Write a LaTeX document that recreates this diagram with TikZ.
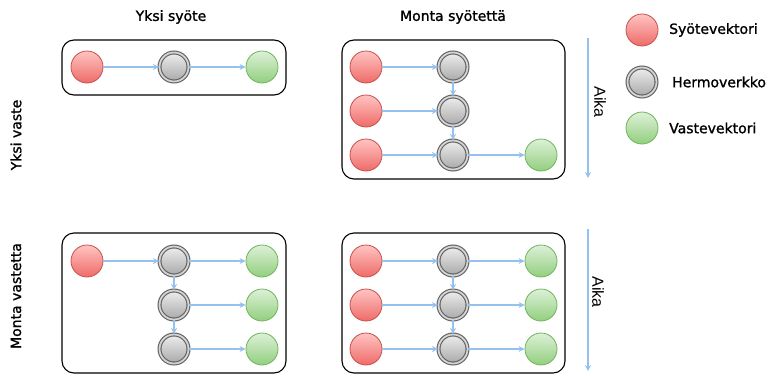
\documentclass[tikz,border=0pt]{standalone}
\usepackage{fontspec}
\setmainfont{DejaVu Sans}[FakeBold=1.3]
\newfontfamily\aikafont{Liberation Sans}
\usetikzlibrary{arrows.meta}
\definecolor{redfillA}{HTML}{FFC4C2}
\definecolor{redfillB}{HTML}{EE6B68}
\definecolor{redline}{HTML}{C8504D}
\definecolor{greenfillA}{HTML}{DDF0D8}
\definecolor{greenfillB}{HTML}{92CF7E}
\definecolor{greenline}{HTML}{6DB55A}
\definecolor{greyfillA}{HTML}{EEEEEE}
\definecolor{greyfillB}{HTML}{A8A8A8}
\definecolor{greyline}{HTML}{606060}
\definecolor{greygap}{HTML}{D4D4D4}
\definecolor{flow}{HTML}{94C1EE}
\tikzset{
  invec/.style={circle, minimum size=32pt, inner sep=0pt, draw=redline, line width=0.8pt, top color=redfillA, bottom color=redfillB},
  outvec/.style={circle, minimum size=32pt, inner sep=0pt, draw=greenline, line width=0.8pt, top color=greenfillA, bottom color=greenfillB},
  netnode/.style={circle, minimum size=29pt, inner sep=0pt, draw=greyline, line width=1.1pt, double=greygap, double distance=1.8pt, top color=greyfillA, bottom color=greyfillB},
  panel/.style={draw=black, line width=1.1pt, rounded corners=12pt, inner sep=0pt},
  flowarrow/.style={draw=flow, line width=1.2pt, -{Stealth[length=6pt,width=6pt]}},
  title/.style={font=\fontsize{14}{16}\selectfont, inner sep=0pt},
  legendtext/.style={font=\fontsize{14}{16}\selectfont, anchor=west, inner sep=0pt},
  aikatext/.style={font=\aikafont\fontsize{16}{18}\selectfont, rotate=-90, inner sep=0pt},
}
\begin{document}
\begin{tikzpicture}[x=1pt, y=-1pt]
\useasboundingbox (0,0) rectangle (773,375);
% panels
\node[panel, minimum width=224pt, minimum height=55pt] (p1) at (174,67.5) {};
\node[panel, minimum width=223pt, minimum height=139pt] (p2) at (453.5,109.5) {};
\node[panel, minimum width=224pt, minimum height=140pt] (p3) at (174,303) {};
\node[panel, minimum width=223pt, minimum height=140pt] (p4) at (453.5,303) {};
% titles
\node[title] (t1) at (171,17) {Yksi syöte};
\node[title] (t2) at (453,17) {Monta syötettä};
\node[title, rotate=90] (r1) at (16,135) {Yksi vaste};
\node[title, rotate=90] (r2) at (16,296) {Monta vastetta};
% panel 1
\node[invec] (a1) at (87,67) {};
\node[netnode] (a2) at (174,67) {};
\node[outvec] (a3) at (262,67) {};
\draw[flowarrow] (a1) -- (a2);
\draw[flowarrow] (a2) -- (a3);
% panel 2
\node[invec] (b1) at (366,67) {};
\node[invec] (b2) at (366,111) {};
\node[invec] (b3) at (366,155) {};
\node[netnode] (bn1) at (453,67) {};
\node[netnode] (bn2) at (453,111) {};
\node[netnode] (bn3) at (453,155) {};
\node[outvec] (bo3) at (541,155) {};
\draw[flowarrow] (b1) -- (bn1);
\draw[flowarrow] (b2) -- (bn2);
\draw[flowarrow] (b3) -- (bn3);
\draw[flowarrow] (bn1) -- (bn2);
\draw[flowarrow] (bn2) -- (bn3);
\draw[flowarrow] (bn3) -- (bo3);
% panel 3
\node[invec] (c1) at (87,261) {};
\node[netnode] (cn1) at (174,261) {};
\node[netnode] (cn2) at (174,305) {};
\node[netnode] (cn3) at (174,349) {};
\node[outvec] (co1) at (262,261) {};
\node[outvec] (co2) at (262,305) {};
\node[outvec] (co3) at (262,349) {};
\draw[flowarrow] (c1) -- (cn1);
\draw[flowarrow] (cn1) -- (cn2);
\draw[flowarrow] (cn2) -- (cn3);
\draw[flowarrow] (cn1) -- (co1);
\draw[flowarrow] (cn2) -- (co2);
\draw[flowarrow] (cn3) -- (co3);
% panel 4
\node[invec] (d1) at (366,261) {};
\node[invec] (d2) at (366,305) {};
\node[invec] (d3) at (366,349) {};
\node[netnode] (dn1) at (453,261) {};
\node[netnode] (dn2) at (453,305) {};
\node[netnode] (dn3) at (453,349) {};
\node[outvec] (do1) at (541,261) {};
\node[outvec] (do2) at (541,305) {};
\node[outvec] (do3) at (541,349) {};
\draw[flowarrow] (d1) -- (dn1);
\draw[flowarrow] (d2) -- (dn2);
\draw[flowarrow] (d3) -- (dn3);
\draw[flowarrow] (dn1) -- (dn2);
\draw[flowarrow] (dn2) -- (dn3);
\draw[flowarrow] (dn1) -- (do1);
\draw[flowarrow] (dn2) -- (do2);
\draw[flowarrow] (dn3) -- (do3);
% time arrows
\coordinate (ta1) at (588,38);
\coordinate (tb1) at (588,178);
\coordinate (ta2) at (588,229);
\coordinate (tb2) at (588,371);
\draw[flowarrow] (ta1) -- (tb1);
\draw[flowarrow] (ta2) -- (tb2);
\node[aikatext] (aika1) at (600,102) {Aika};
\node[aikatext] (aika2) at (598,292) {Aika};
% legend
\node[invec] (l1) at (642,30) {};
\node[netnode] (l2) at (642,82) {};
\node[outvec] (l3) at (642,128) {};
\node[legendtext] (lt1) at (669,30) {Syötevektori};
\node[legendtext] (lt2) at (672,82) {Hermoverkko};
\node[legendtext] (lt3) at (669,128) {Vastevektori};
\end{tikzpicture}
\end{document}
